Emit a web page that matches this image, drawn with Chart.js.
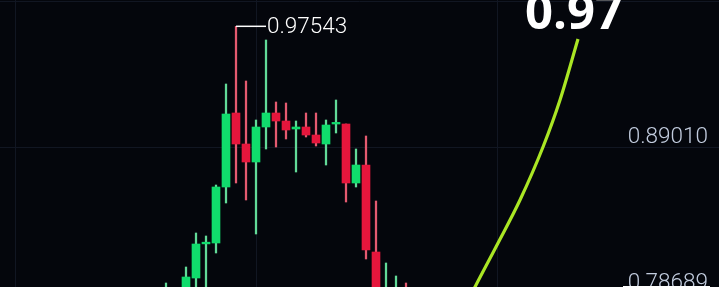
<!DOCTYPE html>
<html>
<head>
<meta charset="utf-8">
<script src="https://cdn.jsdelivr.net/npm/chart.js@4.4.1/dist/chart.umd.min.js"></script>
<style>
  html, body { margin: 0; padding: 0; background: #04060c; overflow: hidden; }
  #wrap { width: 719px; height: 287px; position: relative; }
</style>
</head>
<body>
<div id="wrap"><canvas id="chart"></canvas></div>
<script>
// candles, one slot per bar
const opens  = [0.77132, 0.77132, 0.78193, 0.79748, 0.82160, 0.82223, 0.86182, 0.91414, 0.89222, 0.87949,
                0.90424, 0.91414, 0.90848, 0.90283, 0.90424, 0.89858, 0.89222, 0.90636, 0.90636, 0.86465,
                0.87737, 0.81586, 0.78193, 0.78193, 0.78758]
const highs  = [0.79395, 0.78758, 0.80526, 0.82930, 0.82718, 0.86323, 0.93464, 0.97543, 0.93676, 0.90919,
                0.96575, 0.92192, 0.92121, 0.90848, 0.91414, 0.91414, 0.90919, 0.92333, 0.90636, 0.88869,
                0.89788, 0.85192, 0.80809, 0.79890, 0.79395]
const lows   = [0.76072, 0.76425, 0.77839, 0.78546, 0.78193, 0.81516, 0.85051, 0.86465, 0.85263, 0.82859,
                0.88869, 0.89010, 0.89576, 0.87242, 0.89717, 0.89081, 0.87737, 0.90000, 0.85121, 0.86182,
                0.81092, 0.77486, 0.77486, 0.77839, 0.77486]
const closes = [0.78193, 0.78193, 0.79819, 0.82152, 0.82280, 0.86182, 0.91343, 0.89222, 0.87949, 0.90424,
                0.91414, 0.90848, 0.90212, 0.90424, 0.89858, 0.89293, 0.90565, 0.90750, 0.86465, 0.87737,
                0.81728, 0.78193, 0.78900, 0.78758, 0.78193]

// the yellow-green curve
const curveX = [29.9, 30.9, 33.1, 35.4, 37.7, 39.4, 41.2]
const curveY = [0.77698, 0.79112, 0.82081, 0.85263, 0.89010, 0.92333, 0.96646]

const gridPrices = [0.99331, 0.89010, 0.78689]
const gridSlots = [-15.1, 9, 33.1]
const axisLabels = ['0.89010', '0.78689']
const peakLabel = '0.97543'
const lastLabel = '0.97'

const colors = {
  bg: '#04060c',
  grid: '#111622',
  up: '#10dc6c',
  upWick: '#62da98',
  down: '#e6163c',
  downWick: '#e45a70',
  curve: '#aae624',
  axisText: '#c2ccde'
}

const isUp = opens.map((o, i) => closes[i] >= o)
const wicks = highs.map((h, i) => ({ x: i, y: [lows[i], h] }))
const bodies = opens.map((o, i) => ({ x: i, y: [Math.min(o, closes[i]), Math.max(o, closes[i])] }))
const curve = curveX.map((x, i) => ({ x: x, y: curveY[i] }))

const overlay = {
  id: 'overlay',
  beforeDraw(chart) {
    const { ctx, width, height } = chart
    ctx.save()
    ctx.fillStyle = colors.bg
    ctx.fillRect(0, 0, width, height)
    ctx.restore()
  },
  beforeDatasetsDraw(chart) {
    const { ctx, chartArea, scales: { x, y } } = chart
    ctx.save()
    ctx.strokeStyle = colors.grid
    ctx.lineWidth = 1
    gridPrices.forEach(p => {
      const py = Math.round(y.getPixelForValue(p)) + 0.5
      ctx.beginPath()
      ctx.moveTo(chartArea.left, py)
      ctx.lineTo(chartArea.right, py)
      ctx.stroke()
    })
    gridSlots.forEach(s => {
      const px = Math.round(x.getPixelForValue(s)) + 0.5
      ctx.beginPath()
      ctx.moveTo(px, chartArea.top)
      ctx.lineTo(px, chartArea.bottom)
      ctx.stroke()
    })
    ctx.restore()
  },
  afterDatasetsDraw(chart) {
    const { ctx, scales: { x, y } } = chart
    ctx.save()

    // price labels on the right
    ctx.font = '300 22.5px Roboto'
    ctx.fillStyle = colors.axisText
    ctx.textAlign = 'right'
    ctx.textBaseline = 'alphabetic'
    axisLabels.forEach(t => {
      ctx.fillText(t, 708, y.getPixelForValue(parseFloat(t)) - 4)
    })
    // top edge of the price tag at the bottom
    const tagTop = Math.round(y.getPixelForValue(0.78689)) - 7
    ctx.fillStyle = '#ffffff'
    ctx.fillRect(623, tagTop, 87, 1.5)

    // peak marker
    const peakIdx = highs.indexOf(Math.max(...highs))
    const hx = x.getPixelForValue(peakIdx)
    const hy = y.getPixelForValue(highs[peakIdx])
    ctx.strokeStyle = '#ffffff'
    ctx.lineWidth = 1.5
    ctx.beginPath()
    ctx.moveTo(hx, hy)
    ctx.lineTo(hx + 30, hy)
    ctx.stroke()
    ctx.font = '300 22.5px Roboto'
    ctx.fillStyle = '#ffffff'
    ctx.textAlign = 'left'
    ctx.textBaseline = 'middle'
    ctx.fillText(peakLabel, hx + 31, hy + 1)

    // big value above the end of the curve
    const last = curve[curve.length - 1]
    const lx = x.getPixelForValue(last.x)
    const ly = y.getPixelForValue(last.y)
    ctx.font = 'bold 49px "Open Sans"'
    ctx.textAlign = 'center'
    ctx.textBaseline = 'alphabetic'
    ctx.fillText(lastLabel, lx - 4, ly - 10)

    ctx.restore()
  }
}

const canvas = document.getElementById('chart')

new Chart(canvas, {
  type: 'bar',
  data: {
    datasets: [
      {
        label: 'curve',
        type: 'line',
        data: curve,
        borderColor: colors.curve,
        borderWidth: 3.2,
        pointRadius: 0,
        tension: 0.4,
        cubicInterpolationMode: 'monotone',
        fill: false,
        order: 0
      },
      {
        label: 'bodies',
        data: bodies,
        backgroundColor: isUp.map(u => u ? colors.up : colors.down),
        barThickness: 8,
        grouped: false,
        borderWidth: 0,
        borderSkipped: false,
        order: 1
      },
      {
        label: 'wicks',
        data: wicks,
        backgroundColor: isUp.map(u => u ? colors.upWick : colors.downWick),
        barThickness: 1.6,
        grouped: false,
        borderWidth: 0,
        borderSkipped: false,
        order: 2
      }
    ]
  },
  options: {
    responsive: true,
    maintainAspectRatio: false,
    animation: false,
    events: [],
    layout: { padding: 0 },
    plugins: {
      legend: { display: false },
      tooltip: { enabled: false }
    },
    scales: {
      x: {
        type: 'linear',
        offset: false,
        min: -16.6,
        max: 55.3,
        display: false
      },
      y: {
        min: 0.79112,
        max: 0.99403,
        display: false
      }
    }
  },
  plugins: [overlay]
})
</script>
</body>
</html>
